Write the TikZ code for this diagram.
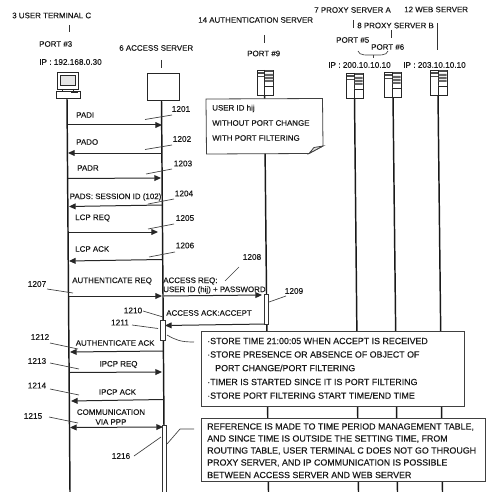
\documentclass[tikz,border=0pt]{standalone}
\usepackage{fontspec}
\setmainfont[FakeBold=0.2]{Liberation Sans}
\usetikzlibrary{arrows.meta}
\tikzset{
 lbl/.style={inner sep=0pt,font=\fontsize{5.95pt}{7.4pt}\selectfont,text=black!90},
 lab/.style={lbl,anchor=west},
 ipl/.style={lbl,anchor=west,font=\fontsize{6.15pt}{7.4pt}\selectfont},
 boxl/.style={lbl,anchor=west,font=\fontsize{6.65pt}{8pt}\selectfont},
 num/.style={inner sep=0pt,font=\fontsize{6.2pt}{7pt}\selectfont,text=black!90},
 life/.style={line width=1.1pt,black!90},
 thinl/.style={line width=0.5pt,black!75},
 msg/.style={line width=0.75pt,black!85,-{Triangle[length=5pt,width=4.4pt]}},
 bar/.style={draw=black!80,line width=0.5pt,fill=white},
 notebox/.style={draw=black!75,line width=0.6pt,fill=white},
 tick/.style={line width=0.7pt,black!80},
 ic/.style={draw=black!85,fill=white,line width=0.5pt},
}
\begin{document}
\begin{tikzpicture}[x=0.75pt,y=-0.75pt]
\useasboundingbox (0,0) rectangle (500,492);
% lifelines
\coordinate (t0) at (67,98); \coordinate (t1) at (70,492);
\coordinate (a0) at (161.5,100); \coordinate (a1) at (164.5,492);
\coordinate (s0) at (264.5,94); \coordinate (s1) at (268.5,492);
\coordinate (p0) at (354.5,97); \coordinate (p1) at (358.5,492);
\coordinate (q0) at (393,96); \coordinate (q1) at (397.5,492);
\coordinate (w0) at (438,94); \coordinate (w1) at (442.5,492);
\draw[life] (t0)--(t1); \draw[life] (a0)--(a1); \draw[life] (s0)--(s1);
\draw[life] (p0)--(p1); \draw[life] (q0)--(q1); \draw[life] (w0)--(w1);
% headers
\node[lab] (hT) at (12,15.5) {3 USER TERMINAL C};
\node[lab] (pT) at (39,44) {PORT \#3};
\node[ipl] (iT) at (39,62) {IP : 192.168.0.30};
\node[lab] (hA) at (119,48) {6 ACCESS SERVER};
\node[lab] (hS) at (198,20) {14 AUTHENTICATION SERVER};
\node[lab] (pS) at (247,53.5) {PORT \#9};
\node[lab] (hP) at (314,10) {7 PROXY SERVER A};
\node[lab] (hW) at (404,9.5) {12 WEB SERVER};
\node[lab] (hQ) at (357,25.5) {8 PROXY SERVER B};
\node[lab] (p5) at (336,40) {PORT \#5};
\node[lab] (p6) at (371,47) {PORT \#6};
\node[ipl] (iP) at (328,65) {IP : 200.10.10.10};
\node[ipl] (iW) at (403,65) {IP : 203.10.10.10};
% header ticks
\coordinate (k1a) at (69.5,25); \coordinate (k1b) at (69.5,32);
\coordinate (k2a) at (161.5,60); \coordinate (k2b) at (161.5,68);
\coordinate (k3a) at (264.5,35); \coordinate (k3b) at (264.5,43);
\coordinate (k4a) at (353.5,20); \coordinate (k4b) at (353.5,28);
\coordinate (k5a) at (391.5,30); \coordinate (k5b) at (391.5,38);
\coordinate (k6a) at (437.5,23); \coordinate (k6b) at (437.5,50);
\draw[tick] (k1a)--(k1b); \draw[tick] (k2a)--(k2b); \draw[tick] (k3a)--(k3b);
\draw[tick] (k4a)--(k4b); \draw[tick] (k5a)--(k5b); \draw[tick] (k6a)--(k6b);
\coordinate (b1) at (358,51); \coordinate (b2) at (388,51); \coordinate (b3) at (373,58);
\draw[thinl] (b1) .. controls (359,56) and (368,55) .. (373,55)
  .. controls (378,55) and (387,56) .. (b2);
\draw[thinl] (373,55)--(b3);
% terminal icon
\draw[ic] (57,72) rectangle (78,89);
\draw[ic,fill=black!10] (60,75) rectangle (75,85);
\draw[ic] (56,91) rectangle (80,98);
\draw[ic] (62,89)--(62,91) (73,89)--(73,91);
\draw[black!85,line width=1pt] (71,92.5)--(78,92.5);
% access box
\node[draw=black!85,line width=0.6pt,fill=white,minimum width=24pt,minimum height=20pt,inner sep=0pt,anchor=north west] (acc) at (147,73.5) {};
% server icons
\newcommand{\srv}[2]{%
\begin{scope}[shift={(#1,#2)}]
\draw[ic] (0,0) rectangle (16.5,25);
\draw[ic] (7.5,0)--(7.5,25);
\fill[black!70] (0.5,2.5) rectangle (7,4);
\fill[black!70] (8,0.5) rectangle (16,1.8);
\draw[black!70,line width=0.4pt] (0.5,6.5)--(7,6.5);
\fill[black!60] (8,4) rectangle (16,6) (8,7) rectangle (16,9) (8,10) rectangle (16,12);
\draw[ic] (7.5,16)--(16.5,16);
\end{scope}}
\srv{257}{70}
\srv{346.5}{73}
\srv{384.5}{72}
\srv{430.5}{70}
% note box 1
\draw[notebox] (206,99) -- (322.5,98.5) -- (323,146) -- (309,153.5) -- (206.5,154) -- cycle;
\draw[notebox,fill=black!12] (323,146) -- (314,147.5) -- (309,153.5) -- cycle;
\node[lab] at (212,108.5) {USER ID hij};
\node[lab] at (212,123) {WITHOUT PORT CHANGE};
\node[lab] at (212,138) {WITH PORT FILTERING};
% messages
\coordinate (m1a) at (67.5,125); \coordinate (m1b) at (162,125);
\coordinate (m2a) at (161.5,153); \coordinate (m2b) at (68,153);
\coordinate (m3a) at (68,178.5); \coordinate (m3b) at (161,178);
\coordinate (m4a) at (162,205); \coordinate (m4b) at (69,206.5);
\coordinate (m5a) at (68.5,232) ; \coordinate (m5b) at (158,232);
\coordinate (m6a) at (162,259.5); \coordinate (m6b) at (69,261);
\coordinate (m7a) at (69,296); \coordinate (m7b) at (162,296);
\coordinate (m8a) at (164,296); \coordinate (m8b) at (262,295);
\coordinate (m9a) at (266,324); \coordinate (m9b) at (165,325.5);
\coordinate (m10a) at (163,351); \coordinate (m10b) at (70,352);
\coordinate (m11a) at (70,372.5); \coordinate (m11b) at (162,372);
\coordinate (m12a) at (164,399.5); \coordinate (m12b) at (71,401);
\coordinate (m13a) at (70,427.5); \coordinate (m13b) at (163,427);
\draw[msg] (m1a)--(m1b); \draw[msg] (m2a)--(m2b); \draw[msg] (m3a)--(m3b);
\draw[msg] (m4a)--(m4b); \draw[msg] (m5a)--(m5b); \draw[msg] (m6a)--(m6b);
\draw[msg] (m7a)--(m7b); \draw[msg] (m8a)--(m8b); \draw[msg] (m9a)--(m9b);
\draw[msg] (m10a)--(m10b); \draw[msg] (m11a)--(m11b); \draw[msg] (m12a)--(m12b);
\draw[msg,{Triangle[length=5pt,width=4.4pt]}-{Triangle[length=5pt,width=4.4pt]}] (m13a)--(m13b);
% message labels
\node[lab] at (76,115) {PADI};
\node[lab] at (76,142) {PADO};
\node[lab] at (77,168) {PADR};
\node[lab] at (69.5,197) {PADS: SESSION ID (102)};
\node[lab] at (75,218) {LCP REQ};
\node[lab] at (75,249) {LCP ACK};
\node[lab] at (72,281) {AUTHENTICATE REQ};
\node[lab] at (163,281) {ACCESS REQ:};
\node[lab] at (163,290) {USER ID (hij) + PASSWORD};
\node[lab] at (166,313) {ACCESS ACK:ACCEPT};
\node[lab] at (75.5,343) {AUTHENTICATE ACK};
\node[lbl] at (118.5,364.5) {IPCP REQ};
\node[lbl] at (117.5,392) {IPCP ACK};
\node[lbl,align=center] at (111,417) {COMMUNICATION\\VIA PPP};
% activation bars
\draw[bar] (160.5,320.5) rectangle (165,340.5);
\draw[bar] (264.5,294.5) rectangle (268.5,324);
\draw[bar] (162,425.5) rectangle (166.5,492);
% numbers and leaders
\newcommand{\nm}[3]{\node[num] (n#3) at (#1,#2) {#3};}
\nm{181}{109}{1201}\nm{182}{139}{1202}\nm{183}{163.5}{1203}
\nm{184}{193.5}{1204}\nm{185}{218}{1205}\nm{185}{245.5}{1206}
\nm{37}{284}{1207}\nm{252}{257}{1208}\nm{294}{291}{1209}
\nm{133}{310.5}{1210}\nm{120}{322.5}{1211}\nm{40}{337}{1212}
\nm{37}{361}{1213}\nm{37}{385.5}{1214}\nm{33}{416}{1215}\nm{121}{456}{1216}
\draw[thinl] (172,115) -- (145,119.5);
\draw[thinl] (172,145) -- (145,149.5);
\draw[thinl] (172,169) -- (146,174);
\draw[thinl] (174,199) -- (148,204);
\draw[thinl] (174,224) -- (148,229);
\draw[thinl] (175,252) -- (149,257);
\draw[thinl] (47,289) -- (73,293);
\draw[thinl] (239,267) -- (225,281);
\draw[thinl] (286,296) -- (269,302);
\draw[thinl] (143,311) -- (163,317);
\draw[thinl] (132,325) -- (158,328.5);
\draw[thinl] (50,343) -- (78,349);
\draw[thinl] (50,363) -- (79,369);
\draw[thinl] (50,389) -- (79,395);
\draw[thinl] (49,417) -- (78,423);
\draw[thinl] (134,456) -- (161,437);
\draw[thinl] (167,335) .. controls (176,340) and (180,342) .. (194,342);
\draw[thinl] (167,444) -- (180,429) -- (194,429);
% boxes
\node[notebox,anchor=north west,minimum width=197.5pt,minimum height=56pt,inner sep=0pt] (bx2) at (200.5,331) {};
\node[notebox,anchor=north west,minimum width=213pt,minimum height=47pt,inner sep=0pt] (bx3) at (200.5,418) {};
\node[boxl] at (207,341) {·STORE TIME 21:00:05 WHEN ACCEPT IS RECEIVED};
\node[boxl] at (207,354.5) {·STORE PRESENCE OR ABSENCE OF OBJECT OF};
\node[boxl] at (215,368) {PORT CHANGE/PORT FILTERING};
\node[boxl] at (207,382) {·TIMER IS STARTED SINCE IT IS PORT FILTERING};
\node[boxl] at (207,395.5) {·STORE PORT FILTERING START TIME/END TIME};
\node[boxl] at (207,427) {REFERENCE IS MADE TO TIME PERIOD MANAGEMENT TABLE,};
\node[boxl] at (207,439) {AND SINCE TIME IS OUTSIDE THE SETTING TIME, FROM};
\node[boxl] at (207,451) {ROUTING TABLE, USER TERMINAL C DOES NOT GO THROUGH};
\node[boxl] at (207,463) {PROXY SERVER, AND IP COMMUNICATION IS POSSIBLE};
\node[boxl] at (207,475) {BETWEEN ACCESS SERVER AND WEB SERVER};
\end{tikzpicture}
\end{document}
